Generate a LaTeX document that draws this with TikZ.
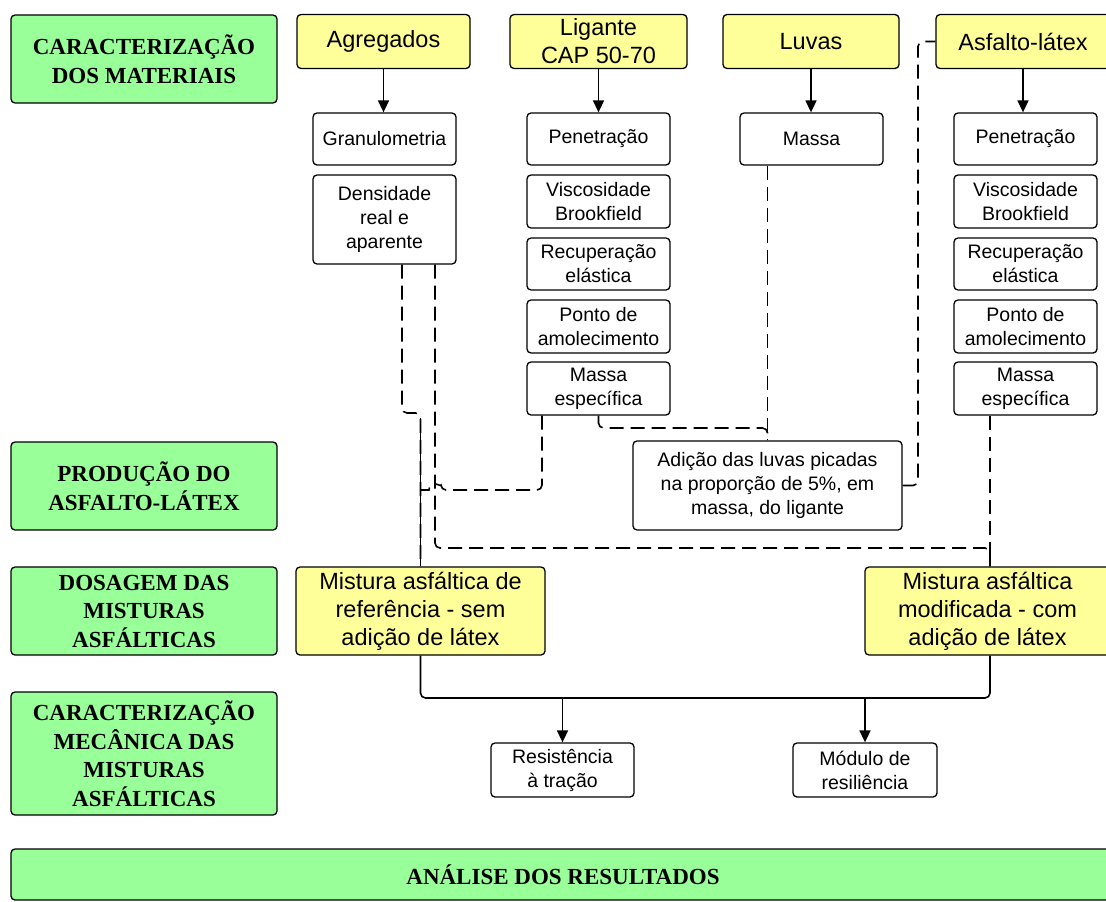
\documentclass[tikz,border=0pt]{standalone}
\usepackage{fontspec}
\setmainfont{Liberation Serif}
\setsansfont{Liberation Sans}
\usetikzlibrary{arrows.meta}
\definecolor{gfill}{RGB}{153,255,153}
\definecolor{yfill}{RGB}{255,255,153}
\begin{document}
\begin{tikzpicture}[x=1pt,y=-1pt,
 box/.style={draw=black, line width=1.3pt, rounded corners=4pt, inner sep=0pt, align=center},
 gbox/.style={box, fill=gfill, font=\fontsize{23}{28.5}\selectfont\bfseries},
 ybox/.style={box, fill=yfill, font=\fontsize{23.5}{28}\selectfont\sffamily},
 wbox/.style={box, fill=white, font=\fontsize{19.5}{24}\selectfont\sffamily},
 arr/.style={line width=1.6pt, -{Triangle[length=12pt,width=11pt]}},
 dline/.style={line width=1.6pt, dash pattern=on 14pt off 7pt, rounded corners=5pt},
 sline/.style={line width=1.6pt, rounded corners=5pt}]
\fill[white] (0,0) rectangle (1106,902);
\useasboundingbox (0,0) rectangle (1106,902);

% left stage boxes
\node[gbox, minimum width=266, minimum height=88] (g1) at (144,59) {CARACTERIZAÇÃO\\DOS MATERIAIS};
\node[gbox, minimum width=266, minimum height=88] (g2) at (144,486) {PRODUÇÃO DO\\ASFALTO-LÁTEX};
\node[gbox, minimum width=266, minimum height=88] (g3) at (144,611) {DOSAGEM DAS\\MISTURAS\\ASFÁLTICAS};
\node[gbox, minimum width=266, minimum height=123] (g4) at (144,753.5) {CARACTERIZAÇÃO\\MECÂNICA DAS\\MISTURAS\\ASFÁLTICAS};
\node[gbox, minimum width=1104, minimum height=51] (g5) at (563,874.5) {ANÁLISE DOS RESULTADOS};

% materials
\node[ybox, minimum width=173, minimum height=54] (agr) at (383.5,41.5) {Agregados};
\node[ybox, minimum width=177, minimum height=54] (lig) at (598.5,41.5) {Ligante\\CAP 50-70};
\node[ybox, minimum width=176, minimum height=54] (luv) at (811,41.5) {Luvas};
\node[ybox, minimum width=174, minimum height=54] (asf) at (1023,41.5) {Asfalto-látex};

% tests
\node[wbox, minimum width=143, minimum height=52] (gran) at (384.5,139) {Granulometria};
\node[wbox, minimum width=143, minimum height=89] (dens) at (384.5,219.5) {Densidade\\real e\\aparente};

\node[wbox, minimum width=143, minimum height=52] (lpen) at (598.5,139) {Penetração};
\node[wbox, minimum width=143, minimum height=53] (lvis) at (598.5,201.5) {Viscosidade\\Brookfield};
\node[wbox, minimum width=143, minimum height=52] (lrec) at (598.5,264) {Recuperação\\elástica};
\node[wbox, minimum width=143, minimum height=53] (lpon) at (598.5,326.5) {Ponto de\\amolecimento};
\node[wbox, minimum width=143, minimum height=53] (lme) at (598.5,388.5) {Massa\\específica};

\node[wbox, minimum width=143, minimum height=52] (lmas) at (811.5,139) {Massa};

\node[wbox, minimum width=143, minimum height=52] (apen) at (1025.5,139) {Penetração};
\node[wbox, minimum width=143, minimum height=53] (avis) at (1025.5,201.5) {Viscosidade\\Brookfield};
\node[wbox, minimum width=143, minimum height=52] (arec) at (1025.5,264) {Recuperação\\elástica};
\node[wbox, minimum width=143, minimum height=53] (apon) at (1025.5,326.5) {Ponto de\\amolecimento};
\node[wbox, minimum width=143, minimum height=53] (ame) at (1025.5,388.5) {Massa\\específica};

\node[wbox, minimum width=269, minimum height=89] (adic) at (767.5,485.5) {Adição das luvas picadas\\na proporção de 5\%, em\\massa, do ligante};

\node[ybox, minimum width=249, minimum height=88] (mref) at (420.5,611) {Mistura asfáltica de\\referência - sem\\adição de látex};
\node[ybox, minimum width=245, minimum height=88] (mmod) at (987.5,611) {Mistura asfáltica\\modificada - com\\adição de látex};

\node[wbox, minimum width=143, minimum height=54] (res) at (562.5,770) {Resistência\\à tração};
\node[wbox, minimum width=144, minimum height=54] (mod) at (865,770) {Módulo de\\resiliência};

% arrows from materials
\draw[arr] (agr.south) -- (agr.south |- gran.north);
\draw[arr] (lig.south) -- (lig.south |- lpen.north);
\draw[arr] (luv.south) -- (luv.south |- lmas.north);
\draw[arr] (asf.south) -- (asf.south |- apen.north);

% dashed flows
\draw[dline] ([xshift=17.5pt]dens.south) -- (402,413) -- (420.5,413) -- (mref.north);
\draw[dline] ([xshift=-56.5pt]lme.south) -- (542,490) -- (441,490) [sharp corners] arc[start angle=0,end angle=-180,radius=6] -- (420.5,490);
\draw[sline] (420.5,418) -- (mref.north);
\draw[dline] ([xshift=50.5pt]dens.south) -- (435,548) -- (990,548) -- ([xshift=2.5pt]mmod.north);
\draw[dline] ([xshift=-35.5pt]ame.south) -- ([xshift=2.5pt]mmod.north);
\draw[sline] (990,550) -- ([xshift=2.5pt]mmod.north);

\draw[dline] (lme.south) -- (598.5,428) -- (767.5,428) -- (adic.north);
\draw[dline] ([xshift=-44pt]lmas.south) -- (adic.north);
\draw[dline] (adic.east) -- (918,485.5) -- (918,41.5) -- (asf.west);

% mechanical characterisation
\coordinate (j1) at (562.5,698);
\coordinate (j2) at (865,698);
\draw[sline] (mref.south) -- (420.5,698) -- (990,698) -- ([xshift=2.5pt]mmod.south);
\draw[arr] (j1) -- (res.north);
\draw[arr] (j2) -- (mod.north);
\end{tikzpicture}
\end{document}
